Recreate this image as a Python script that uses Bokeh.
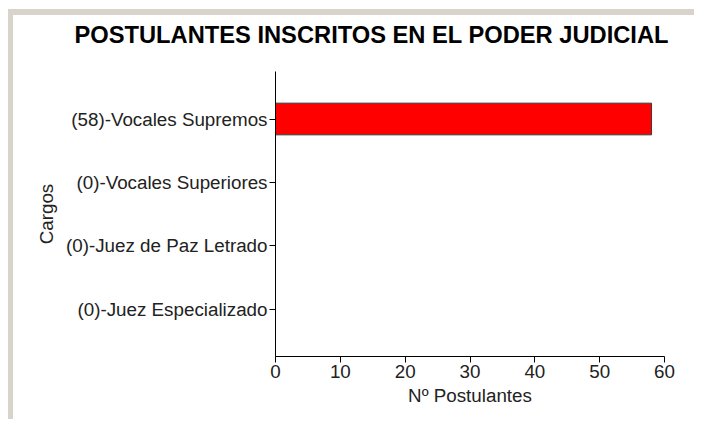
from bokeh.plotting import figure
from bokeh.models import FactorRange, Range1d, FixedTicker, Title
from bokeh.embed import file_html
from bokeh.resources import INLINE

# Data
cargos = ["Vocales Supremos", "Vocales Superiores", "Juez de Paz Letrado", "Juez Especializado"]
postulantes = [58, 0, 0, 0]
x_ticks = [0, 10, 20, 30, 40, 50, 60]

labels = [f"({v})-{c}" for v, c in zip(postulantes, cargos)]
factors = list(reversed(labels))

FONT = "Liberation Sans"

p = figure(
    width=694, height=419,
    y_range=FactorRange(factors=factors, range_padding=0.25, range_padding_units="absolute"),
    x_range=Range1d(0, 60),
    output_backend="svg", toolbar_location=None,
    title="POSTULANTES INSCRITOS EN EL PODER JUDICIAL",
    min_border_left=275, min_border_right=30, min_border_top=71, min_border_bottom=63,
)

# window frame decoration (grey top and left edges), shown through a transparent border area
p.border_fill_alpha = 0
p.styles = {
    "background": ("linear-gradient(#d8d4cc, #d8d4cc) 8px 9px / 686px 6px no-repeat, "
                   "linear-gradient(#d8d4cc, #d8d4cc) 8px 9px / 5px 410px no-repeat, white"),
}

p.hbar(y=labels, right=postulantes, left=0, height=0.5,
       fill_color="#ff0000", line_color="#3a3a3a", line_width=1)

p.title.text_font = FONT
p.title.text_font_size = "23.7px"
p.title.text_font_style = "bold"
p.title.text_color = "#000000"
p.title.align = "left"
p.title.offset = -201
p.title.standoff = 31

# small blank spacer between the title and the plot area
p.add_layout(Title(text=" ", text_font_size="5px", standoff=0), "above")

p.outline_line_color = None
p.xgrid.grid_line_color = None
p.ygrid.grid_line_color = None
p.background_fill_color = "white"

for ax in (p.xaxis[0], p.yaxis[0]):
    ax.axis_line_color = "black"
    ax.major_tick_line_color = "black"
    ax.minor_tick_line_color = None
    ax.major_tick_out = 6
    ax.major_tick_in = 0
    ax.major_label_text_font = FONT
    ax.major_label_text_font_size = "18.8px"
    ax.major_label_text_color = "#222222"
    ax.axis_label_text_font = FONT
    ax.axis_label_text_font_size = "18.8px"
    ax.axis_label_text_font_style = "normal"
    ax.axis_label_text_color = "#222222"

p.xaxis.ticker = FixedTicker(ticks=x_ticks)
p.xaxis.axis_label = "Nº Postulantes"
p.xaxis.major_label_standoff = 2
p.xaxis.axis_label_standoff = 4
p.yaxis.axis_label = "Cargos"
p.yaxis.major_label_standoff = 2
p.yaxis.axis_label_standoff = 6

open("out.html", "w").write(file_html(p, INLINE))
